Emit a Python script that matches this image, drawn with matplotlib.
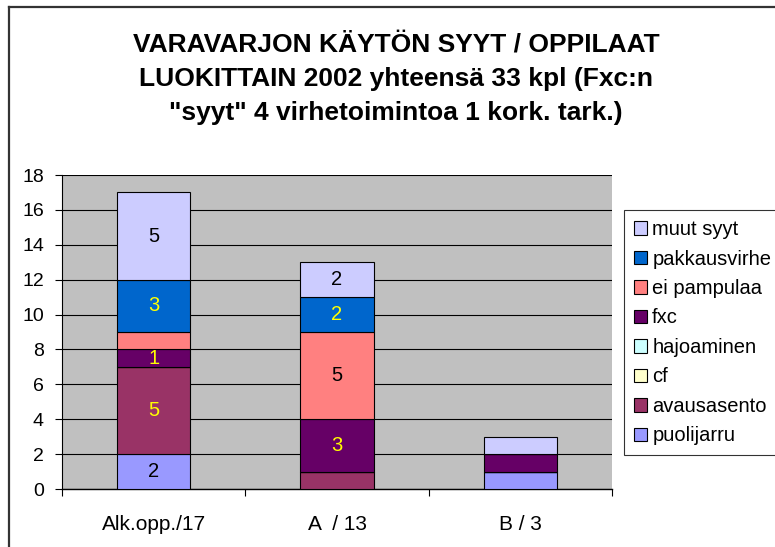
import matplotlib
matplotlib.use("Agg")
import matplotlib.pyplot as plt
from matplotlib.patches import Patch
from matplotlib.lines import Line2D
import numpy as np

plt.rcParams['font.family'] = ['Liberation Sans', 'DejaVu Sans']

categories = ["Alk.opp./17", "A  / 13", "B / 3"]
series_names = ["puolijarru", "avausasento", "cf", "hajoaminen", "fxc",
                "ei pampulaa", "pakkausvirhe", "muut syyt"]
values = {
    "puolijarru":   [2, 0, 1],
    "avausasento":  [5, 1, 0],
    "cf":           [0, 0, 0],
    "hajoaminen":   [0, 0, 0],
    "fxc":          [1, 3, 1],
    "ei pampulaa":  [1, 5, 0],
    "pakkausvirhe": [3, 2, 0],
    "muut syyt":    [5, 2, 1],
}
colors = {
    "puolijarru":   "#9999FF",
    "avausasento":  "#993366",
    "cf":           "#FFFFCC",
    "hajoaminen":   "#CCFFFF",
    "fxc":          "#660066",
    "ei pampulaa":  "#FF8080",
    "pakkausvirhe": "#0066CC",
    "muut syyt":    "#CCCCFF",
}
label_colors = {
    "puolijarru": "black", "avausasento": "#FFFF00", "cf": "black",
    "hajoaminen": "black", "fxc": "#FFFF00", "ei pampulaa": "black",
    "pakkausvirhe": "#FFFF00", "muut syyt": "black",
}
# segments that carry a value label (category index, series)
labelled = [(0, "puolijarru"), (0, "avausasento"), (0, "fxc"),
            (0, "pakkausvirhe"), (0, "muut syyt"),
            (1, "fxc"), (1, "ei pampulaa"), (1, "pakkausvirhe"), (1, "muut syyt")]
title_lines = ["VARAVARJON KÄYTÖN SYYT / OPPILAAT",
               "LUOKITTAIN 2002 yhteensä 33 kpl (Fxc:n",
               "\"syyt\" 4 virhetoimintoa 1 kork. tark.)"]

W, H = 775, 547
fig = plt.figure(figsize=(W / 100, H / 100), dpi=100)

def fx(px): return px / W
def fy(py): return 1 - py / H

ax_l, ax_r, ax_t, ax_b = 62, 612, 175, 489
ax = fig.add_axes([fx(ax_l), fy(ax_b), fx(ax_r - ax_l), (ax_b - ax_t) / H])
ax.set_facecolor("#C0C0C0")

x = np.arange(len(categories))
bottom = np.zeros(len(categories))
for name in series_names:
    v = np.array(values[name], dtype=float)
    ax.bar(x, v, 0.4, bottom=bottom, color=colors[name], edgecolor="black",
           linewidth=0.8, zorder=3)
    for i in range(len(categories)):
        if (i, name) in labelled:
            ax.text(x[i], bottom[i] + v[i] / 2, f"{int(v[i])}", ha="center",
                    va="center", fontsize=14.5, color=label_colors[name], zorder=4)
    bottom += v

ax.set_xlim(-0.5, len(categories) - 0.5)
ax.set_ylim(0, 18)
ax.set_yticks(np.arange(0, 19, 2))
ax.yaxis.grid(True, color="black", linewidth=0.8, zorder=1)
ax.set_axisbelow(True)
ax.set_xticks(x)
ax.set_xticklabels(categories, fontsize=15)
ax.set_xticks(np.arange(-0.5, len(categories)), minor=True)
ax.tick_params(axis="x", which="major", length=0, pad=19)
ax.tick_params(axis="x", which="minor", length=5, width=0.8, direction="out")
ax.tick_params(axis="y", length=5, width=0.8, labelsize=14, pad=8)
for s in ["top", "right"]:
    ax.spines[s].set_visible(False)
ax.spines["left"].set_linewidth(0.8)
ax.spines["bottom"].set_linewidth(1.0)

# title
for line, py in zip(title_lines, [52, 86, 120]):
    fig.text(fx(396), fy(py), line, ha="center", va="baseline",
             fontsize=19, fontweight="bold")

# legend
handles = [Patch(facecolor=colors[n], edgecolor="black", linewidth=0.8)
           for n in series_names[::-1]]
leg = fig.legend(handles, series_names[::-1], loc="upper left",
                 bbox_to_anchor=(fx(624), fy(210)), frameon=True,
                 fancybox=False, edgecolor="black", fontsize=14.5,
                 handlelength=0.65, handleheight=0.65, handletextpad=0.25,
                 labelspacing=0.52, borderpad=0.5, borderaxespad=0)
leg.get_frame().set_linewidth(0.8)

# chart border
fig.add_artist(Line2D([fx(9), fx(W + 5)], [fy(7), fy(7)], color="#333333", linewidth=1.6))
fig.add_artist(Line2D([fx(9), fx(9)], [fy(7), fy(H + 5)], color="#333333", linewidth=1.6))

fig.savefig("out.png", dpi=100)
